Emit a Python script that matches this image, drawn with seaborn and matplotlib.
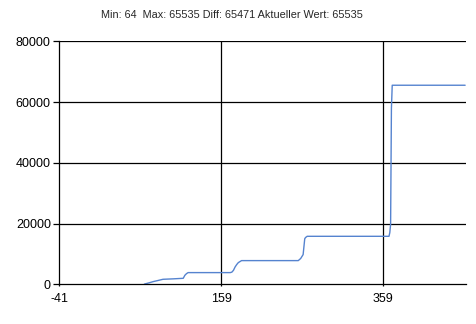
import matplotlib
matplotlib.use("Agg")
import matplotlib.pyplot as plt
import seaborn as sns
import pandas as pd

# data
x_vals = [64, 70, 75, 80, 87, 100, 112, 114, 116, 118, 130, 150, 170, 172, 174, 176, 178, 180, 184,
          200, 220, 240, 254, 257, 260, 262, 263, 265, 280, 300, 320, 340, 366, 367, 368, 369, 370,
          400, 430, 460]
y_vals = [64, 500, 890, 1200, 1650, 1800, 1975, 2960, 3500, 3850, 3850, 3850, 3850, 4000, 4600, 5700,
          6500, 7140, 7800, 7800, 7800, 7800, 7800, 8500, 9780, 15000, 15400, 15800, 15800, 15800,
          15800, 15800, 15800, 17000, 19750, 57900, 65535, 65535, 65535, 65535]
x_ticks = [-41, 159, 359]
x_tick_labels = ["-41", "159", "359"]
y_ticks = [0, 20000, 40000, 60000, 80000]
y_tick_labels = ["0", "20000", "40000", "60000", "80000"]
title_text = "Min: 64  Max: 65535 Diff: 65471 Aktueller Wert: 65535"

sns.set_style("white")
plt.rcParams["font.family"] = ["Liberation Sans", "DejaVu Sans"]

df = pd.DataFrame({"x": x_vals, "y": y_vals})

fig = plt.figure(figsize=(4.77, 3.24), dpi=100)
ax = fig.add_axes([59.3 / 477, 1 - 284.3 / 324, (465.7 - 59.3) / 477, (284.3 - 41.3) / 324])

sns.lineplot(data=df, x="x", y="y", ax=ax, color="#5583cf", linewidth=1.0,
             sort=False, estimator=None)

ax.set_xlim(-41, 460.7)
ax.set_ylim(0, 80000)
ax.set_xticks(x_ticks)
ax.set_xticklabels(x_tick_labels)
ax.set_yticks(y_ticks)
ax.set_yticklabels(y_tick_labels)
ax.set_xlabel("")
ax.set_ylabel("")

for v in x_ticks[1:]:
    ax.axvline(v, color="black", linewidth=0.9, zorder=0)
for v in y_ticks[1:]:
    ax.axhline(v, color="black", linewidth=0.9, zorder=0)

for s in ["top", "right"]:
    ax.spines[s].set_visible(False)
for s in ["left", "bottom"]:
    ax.spines[s].set_color("black")
    ax.spines[s].set_linewidth(0.9)

ax.tick_params(axis="x", direction="out", length=1.6, width=0.9, pad=4.5, labelsize=9,
               colors="black", bottom=True)
ax.tick_params(axis="y", direction="out", length=4.3, width=0.9, pad=1.8, labelsize=9,
               colors="black", left=True)

fig.text(232 / 477, 1 - 15 / 324, title_text, ha="center", va="center", fontsize=7.8)

fig.savefig("out.png", dpi=100, facecolor="white")
